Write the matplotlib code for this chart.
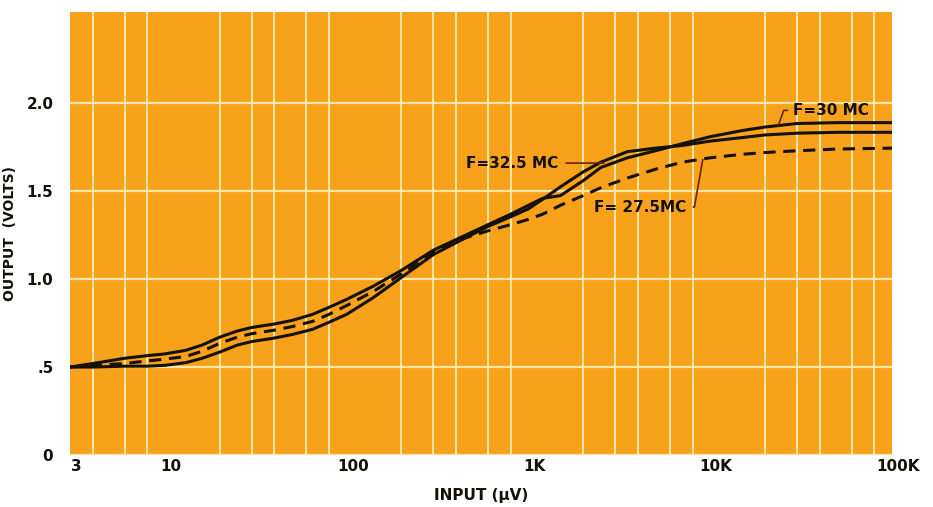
import numpy as np
import matplotlib
matplotlib.use("Agg")
import matplotlib.pyplot as plt
import matplotlib.transforms as mtransforms

# input (uV) where the curves were read
x_in = [3, 4, 6, 8, 10, 13, 16, 20, 25, 30, 40, 50, 65, 80, 100, 140, 200, 300,
        450, 600, 800, 1000, 1200, 1500, 2000, 2500, 3500, 5000, 7000, 10000,
        15000, 20000, 30000, 50000, 100000]

# output volts
f30 = [0.50, 0.52, 0.55, 0.565, 0.575, 0.595, 0.625, 0.67, 0.705, 0.725, 0.745,
       0.765, 0.80, 0.84, 0.885, 0.96, 1.05, 1.165, 1.25, 1.31, 1.37, 1.42, 1.46,
       1.475, 1.56, 1.635, 1.69, 1.73, 1.77, 1.81, 1.845, 1.865, 1.885, 1.89, 1.89]
f325 = [0.50, 0.50, 0.505, 0.505, 0.51, 0.525, 0.55, 0.585, 0.625, 0.645, 0.665,
        0.685, 0.715, 0.755, 0.80, 0.895, 1.01, 1.14, 1.235, 1.30, 1.355, 1.40, 1.455,
        1.525, 1.61, 1.665, 1.725, 1.745, 1.76, 1.785, 1.805, 1.82, 1.83, 1.835, 1.835]
f275 = [0.50, 0.51, 0.52, 0.535, 0.545, 0.56, 0.59, 0.635, 0.67, 0.69, 0.71,
        0.73, 0.76, 0.80, 0.85, 0.93, 1.03, 1.15, 1.235, 1.275, 1.31, 1.34, 1.37,
        1.42, 1.475, 1.52, 1.575, 1.625, 1.665, 1.69, 1.71, 1.72, 1.73, 1.74, 1.745]

x_ticks = [3, 10, 100, 1000, 10000, 100000]
x_labels = ["3", "10", "100", "1K", "10K", "100K"]
y_ticks = [0, 0.5, 1.0, 1.5, 2.0]
y_labels = ["0", ".5", "1.0", "1.5", "2.0"]
grid_x = [4, 6, 8, 10, 20, 30, 40, 60, 80, 100, 200, 300, 400, 600, 800, 1000,
          2000, 3000, 4000, 6000, 8000, 10000, 20000, 30000, 40000, 60000, 80000]

bg = "#F8A21C"
gridc = "#FFE8A6"
ink = "#151008"
lead = "#6E2410"

fig = plt.figure(figsize=(9.33, 5.07), dpi=100)
ax = fig.add_axes([0.075, 0.1026, 0.881, 0.874])
ax.set_facecolor(bg)
ax.set_xscale("log")
ax.set_xlim(3, 100000)
ax.set_ylim(0, 2.52)

ax.set_xticks(grid_x, minor=True)
ax.set_xticks(x_ticks)
ax.set_xticklabels(x_labels)
ax.set_yticks(y_ticks)
ax.set_yticklabels(y_labels)
ax.tick_params(which="both", length=0)
ax.tick_params(axis="x", pad=3)
ax.tick_params(axis="y", pad=12)
for lab in ax.get_xticklabels() + ax.get_yticklabels():
    lab.set_fontsize(11)
    lab.set_fontweight("bold")
    lab.set_color(ink)
# labels sit a little right of their grid lines in the original
off = mtransforms.ScaledTranslation(6 / 100, 0, fig.dpi_scale_trans)
for lab in ax.get_xticklabels():
    lab.set_transform(lab.get_transform() + off)

ax.grid(axis="x", which="minor", color=gridc, linewidth=1.4)
ax.grid(axis="x", which="major", visible=False)
ax.grid(axis="y", which="major", color=gridc, linewidth=1.6)
for s in ax.spines.values():
    s.set_visible(False)

ax.plot(x_in, f30, color=ink, lw=2.2, solid_capstyle="round")
ax.plot(x_in, f325, color=ink, lw=2.2, solid_capstyle="round")
ax.plot(x_in, f275, color=ink, lw=2.2, linestyle=(0, (4, 2.5)))

tkw = dict(fontsize=11, fontweight="bold", color=ink)
ax.annotate("F=30 MC", xy=(23700, 1.875), xytext=(28600, 1.96),
            va="center", ha="left",
            arrowprops=dict(arrowstyle="-", color=lead, lw=1.2,
                            connectionstyle="angle,angleA=0,angleB=70,rad=0",
                            shrinkA=2, shrinkB=0), **tkw)
ax.annotate("F=32.5 MC", xy=(2600, 1.66), xytext=(1450, 1.66),
            va="center", ha="right",
            arrowprops=dict(arrowstyle="-", color=lead, lw=1.2,
                            shrinkA=4, shrinkB=0), **tkw)
ax.annotate("F= 27.5MC", xy=(9100, 1.68), xytext=(7400, 1.41),
            va="center", ha="right",
            arrowprops=dict(arrowstyle="-", color=lead, lw=1.2,
                            connectionstyle="angle,angleA=0,angleB=80,rad=0",
                            shrinkA=3, shrinkB=0), **tkw)

ax.set_xlabel("INPUT (\u00b5V)", fontsize=11, fontweight="bold", color=ink, labelpad=10)
ax.set_ylabel("OUTPUT  (VOLTS)", fontsize=10, fontweight="bold", color=ink)
ax.yaxis.set_label_coords(-0.064, 0.5)

fig.savefig("out.png", dpi=100, facecolor="white")
